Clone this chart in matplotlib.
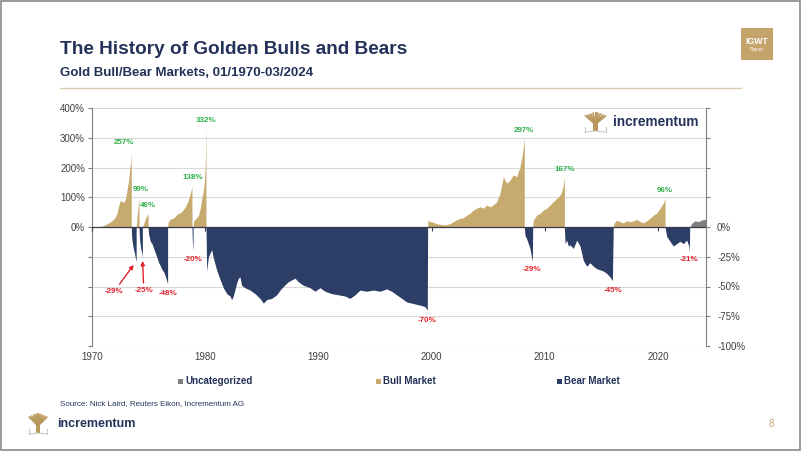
import matplotlib
matplotlib.use("Agg")
import matplotlib.pyplot as plt
from matplotlib.patches import Rectangle
from matplotlib.ticker import FixedFormatter, FixedLocator, NullFormatter

plt.rcParams["font.family"] = ["Liberation Sans", "DejaVu Sans"]

GOLD = "#C7AB6E"
NAVY = "#2C3E66"
GREY = "#7F7F7F"
GREEN = "#2DB04B"
RED = "#E3212B"
TITLE = "#243259"
TEXT = "#404040"
GRID = "#D9D9D9"

# bull markets, % gain from the start of each run (left axis)
BULL_YEARS = [
    1970.55, 1970.7, 1970.9, 1971.2, 1971.5, 1971.8, 1972.0, 1972.2, 1972.35, 1972.5, 1972.65, 1972.8,
    1972.95, 1973.1, 1973.25, 1973.35, 1973.42, 1973.47, 1973.47,
    1973.9, 1973.95, 1974.0, 1974.05, 1974.1, 1974.15, 1974.15,
    1974.45, 1974.55, 1974.65, 1974.75, 1974.85, 1974.95, 1974.95,
    1976.68, 1976.72, 1976.8, 1977.0, 1977.2, 1977.4, 1977.6, 1977.8, 1978.0, 1978.2, 1978.4, 1978.55,
    1978.7, 1978.83, 1978.83,
    1978.93, 1978.98, 1979.1, 1979.25, 1979.4, 1979.55, 1979.7, 1979.8, 1979.9, 1979.97, 1980.02, 1980.07, 1980.07,
    1999.65, 1999.68, 1999.86, 2000.15, 2000.45, 2000.74, 2001.18, 2001.63, 2001.92, 2002.21, 2002.51, 2002.8,
    2003.1, 2003.39, 2003.69, 2003.98, 2004.28, 2004.57, 2004.86, 2005.16, 2005.45, 2005.75, 2006.04, 2006.34,
    2006.48, 2006.63, 2006.93, 2007.22, 2007.52, 2007.81, 2007.96, 2008.1, 2008.19, 2008.19,
    2008.93, 2008.99, 2009.28, 2009.58, 2009.87, 2010.17, 2010.46, 2010.75, 2011.05, 2011.34, 2011.49, 2011.64,
    2011.73, 2011.73,
    2016.05, 2016.11, 2016.35, 2016.64, 2016.94, 2017.23, 2017.53, 2017.82, 2018.12, 2018.41, 2018.71, 2019.0,
    2019.29, 2019.59, 2019.88, 2020.18, 2020.47, 2020.62, 2020.62,
]
BULL_PCT = [
    0, 2, 3, 8, 14, 22, 30, 45, 70, 90, 85, 84,
    92, 125, 160, 200, 215, 257, 0,
    0, 20, 45, 60, 80, 99, 0,
    0, 10, 20, 30, 38, 46, 0,
    0, 15, 22, 28, 30, 38, 45, 48, 55, 65, 80, 95,
    115, 138, 0,
    0, 20, 25, 32, 38, 60, 95, 115, 140, 180, 230, 332, 0,
    0, 23, 18, 16, 11, 9, 7, 11, 18, 24, 29, 31,
    40, 46, 57, 63, 68, 63, 74, 68, 74, 85, 113, 169,
    158, 147, 158, 175, 169, 203, 231, 270, 297, 0,
    0, 23, 40, 46, 57, 63, 74, 85, 96, 107, 119, 141,
    167, 0,
    0, 12, 23, 18, 14, 21, 18, 21, 26, 18, 14, 21,
    29, 40, 46, 63, 80, 96, 0,
]

# bear markets, % drawdown (right axis)
BEAR_YEARS = [
    1973.47, 1973.5, 1973.55, 1973.65, 1973.75, 1973.85, 1973.9, 1973.9,
    1974.15, 1974.2, 1974.3, 1974.4, 1974.45, 1974.45,
    1974.95, 1975.0, 1975.05, 1975.15, 1975.3, 1975.45, 1975.6, 1975.75, 1975.9, 1976.05, 1976.2, 1976.35,
    1976.5, 1976.6, 1976.68, 1976.68,
    1978.83, 1978.86, 1978.9, 1978.93, 1978.93,
    1980.07, 1980.13, 1980.28, 1980.57, 1980.72, 1981.01, 1981.31, 1981.6, 1981.9, 1982.19, 1982.34, 1982.48,
    1982.78, 1982.93, 1983.07, 1983.22, 1983.51, 1983.96, 1984.4, 1984.84, 1985.14, 1985.43, 1985.87, 1986.31,
    1986.61, 1986.9, 1987.34, 1987.93, 1988.23, 1988.67, 1989.26, 1989.7, 1990.14, 1990.58, 1991.17, 1991.76,
    1992.35, 1992.79, 1993.23, 1993.67, 1994.26, 1994.85, 1995.44, 1996.03, 1996.47, 1996.91, 1997.36, 1997.8,
    1998.24, 1998.68, 1999.12, 1999.42, 1999.62, 1999.65,
    2008.19, 2008.25, 2008.4, 2008.55, 2008.69, 2008.84, 2008.9, 2008.93,
    2011.73, 2011.79, 2011.93, 2012.08, 2012.23, 2012.52, 2012.82, 2013.11, 2013.4, 2013.7, 2013.99, 2014.29,
    2014.58, 2014.88, 2015.17, 2015.47, 2015.76, 2015.97, 2016.05,
    2020.62, 2020.77, 2021.06, 2021.35, 2021.65, 2021.94, 2022.24, 2022.53, 2022.72, 2022.77, 2022.8,
]
BEAR_PCT = [
    0, -8, -12, -18, -22, -27, -29, 0,
    0, -10, -18, -22, -25, 0,
    0, -6, -8, -12, -14, -18, -22, -26, -30, -33, -36, -38,
    -42, -45, -48, 0,
    0, -10, -20, -12, 0,
    0, -37, -25, -19, -26, -36, -44, -51, -56, -58, -61, -58,
    -47, -43, -42, -49, -51, -53, -56, -60, -64, -61, -60, -57,
    -53, -50, -46, -43, -46, -49, -51, -54, -51, -54, -56, -57,
    -58, -60, -57, -53, -54, -53, -54, -52, -54, -57, -60, -63,
    -64, -65, -66, -67, -70, 0,
    0, -7, -10, -14, -18, -26, -29, 0,
    0, -14, -11, -16, -15, -18, -11, -16, -28, -33, -30, -33,
    -35, -36, -37, -39, -42, -45, 0,
    0, -8, -12, -16, -14, -12, -14, -11, -16, -21, 0,
]

# not yet classified (left axis)
OTHER_YEARS = [2022.83, 2022.97, 2023.27, 2023.56, 2023.86, 2024.06, 2024.2, 2024.2]
OTHER_PCT = [0, 12, 21, 18, 23, 26, 24, 0]

PEAK_YEARS = [1973.47, 1974.15, 1974.95, 1978.83, 1980.07, 2008.19, 2011.73, 2020.62]
PEAK_PCT = [257, 99, 46, 138, 332, 297, 167, 96]
TROUGH_YEARS = [1973.9, 1974.45, 1976.68, 1978.9, 1999.62, 2008.9, 2015.97, 2022.77]
TROUGH_PCT = [-29, -25, -48, -20, -70, -29, -45, -21]

DECADES = [1970, 1980, 1990, 2000, 2010, 2020]
LEFT_TICKS = list(range(-400, 401, 100))
RIGHT_TICKS = list(range(-100, 101, 25))


def draw_tree(fig, rect):
    lax = fig.add_axes(rect)
    lax.set_xlim(0, 1)
    lax.set_ylim(0, 1)
    lax.axis("off")
    for i in range(9):
        x_end = 0.08 + i * 0.105
        lax.plot([0.5, x_end], [0.42, 0.97 - abs(i - 4) * 0.04], color="#B8975A", lw=1.3, solid_capstyle="butt")
    lax.add_patch(Rectangle((0.4, 0.12), 0.2, 0.34, color="#B8975A", lw=0))
    lax.plot([0.08, 0.45], [0.08, 0.12], color="#C9C9C9", lw=0.8)
    lax.plot([0.55, 0.92], [0.12, 0.08], color="#C9C9C9", lw=0.8)
    lax.plot([0.08, 0.08], [0.08, 0.3], color="#C9C9C9", lw=0.8)
    lax.plot([0.92, 0.92], [0.08, 0.3], color="#C9C9C9", lw=0.8)


fig = plt.figure(figsize=(8.02, 4.51), dpi=100)
fig.patch.set_facecolor("white")

ax = fig.add_axes([92 / 802, 1 - 346 / 451, 614 / 802, 238 / 451])
ax2 = ax.twinx()

ax.fill_between(BULL_YEARS, BULL_PCT, 0, color=GOLD, lw=0)
ax.fill_between(OTHER_YEARS, OTHER_PCT, 0, color=GREY, lw=0)
ax2.fill_between(BEAR_YEARS, BEAR_PCT, 0, color=NAVY, lw=0)
ax2.axhline(0, color="#3A3A4A", lw=0.9, zorder=3)

ax.set_xlim(1970, 2024.24)
ax.set_ylim(-400, 400)
ax2.set_ylim(-100, 100)

ax.set_axisbelow(True)
ax.grid(axis="y", color=GRID, lw=0.8)
ax.yaxis.set_major_locator(FixedLocator(LEFT_TICKS))
ax.yaxis.set_major_formatter(FixedFormatter([f"{t}%" if t >= 0 else "" for t in LEFT_TICKS]))
ax.tick_params(axis="y", length=3, color=GREY, labelsize=7, labelcolor=TEXT, pad=2)
ax.set_xticks(DECADES)
ax.set_xticklabels([str(d) for d in DECADES])
ax.tick_params(axis="x", length=0, labelsize=7, labelcolor=TEXT, pad=4)

ax2.yaxis.set_major_locator(FixedLocator(RIGHT_TICKS))
ax2.yaxis.set_major_formatter(FixedFormatter([f"{t}%" if t <= 0 else "" for t in RIGHT_TICKS]))
ax2.tick_params(axis="y", length=3, color=GREY, labelsize=7, labelcolor=TEXT, pad=5)

for side in ["top", "bottom", "right"]:
    ax.spines[side].set_visible(False)
for side in ["top", "bottom", "left"]:
    ax2.spines[side].set_visible(False)
ax.spines["left"].set_color(GREY)
ax2.spines["right"].set_color(GREY)

# category axis crossing at zero: tick marks only, pointing down
zero_axis = ax2.secondary_xaxis(0.5)
zero_axis.set_xticks(DECADES)
zero_axis.xaxis.set_major_formatter(NullFormatter())
zero_axis.tick_params(length=3, color="#3A3A4A", direction="in")
for side in ["top", "bottom"]:
    zero_axis.spines[side].set_visible(False)

bull_dx = [-7, 2, 0, 1, 0, 0, 0, 0]
for yr, pct, dx in zip(PEAK_YEARS, PEAK_PCT, bull_dx):
    ax.annotate(f"{pct}%", (yr, pct), xytext=(dx, 8), textcoords="offset pixels",
                ha="center", va="center", fontsize=5.8, fontweight="bold", color=GREEN)

bear_offsets = [(-22, -30), (1.5, -34), (0, -9), (0, -9), (0, -10), (0, -8), (1, -10), (0, -8)]
for i, (yr, pct) in enumerate(zip(TROUGH_YEARS, TROUGH_PCT)):
    arrow = None
    if i < 2:
        arrow = dict(arrowstyle="-|>", color=RED, lw=1.0, shrinkA=1, shrinkB=3, mutation_scale=6)
    ax2.annotate(f"{pct}%", (yr, pct), xytext=bear_offsets[i], textcoords="offset pixels",
                 ha="center", va="center", fontsize=5.8, fontweight="bold", color=RED,
                 arrowprops=arrow, zorder=5)

# header
fig.text(60 / 802, 1 - 50 / 451, "The History of Golden Bulls and Bears", fontsize=13.7,
         fontweight="bold", color=TITLE, va="center")
fig.text(60 / 802, 1 - 73 / 451, "Gold Bull/Bear Markets, 01/1970-03/2024", fontsize=9.5,
         fontweight="bold", color=TITLE, va="center")
fig.add_artist(plt.Line2D([60 / 802, 741 / 802], [1 - 88 / 451] * 2, color="#D9CCAA", lw=1))
fig.add_artist(Rectangle((741 / 802, 1 - 60 / 451), 32 / 802, 32 / 451, color="#C4A46A", lw=0))
fig.text(757 / 802, 1 - 41 / 451, "IGWT", fontsize=6.2, fontweight="bold", color="white", ha="center", va="center")
fig.text(757 / 802, 1 - 50 / 451, "Report", fontsize=3.3, color="white", ha="center", va="center")

# logo inside the chart
draw_tree(fig, [583 / 802, 1 - 134 / 451, 25 / 802, 23 / 451])
fig.text(613 / 802, 1 - 122 / 451, "incrementum", fontsize=9.8, fontweight="bold", color=TITLE, va="center")

# legend
legend_items = [(181, GREY, "Uncategorized"), (379, GOLD, "Bull Market"), (560, NAVY, "Bear Market")]
for x_px, colour, label in legend_items:
    fig.add_artist(Rectangle(((x_px - 3) / 802, 1 - 384 / 451), 5 / 802, 5 / 451, color=colour, lw=0))
    fig.text((x_px + 4) / 802, 1 - 381.5 / 451, label, fontsize=7, fontweight="bold", color=TITLE, va="center")

# footer
fig.text(60 / 802, 1 - 404 / 451, "Source: Nick Laird, Reuters Eikon, Incrementum AG", fontsize=5.8,
         color=TITLE, va="center")
draw_tree(fig, [27 / 802, 1 - 436 / 451, 22 / 802, 24 / 451])
fig.text(57 / 802, 1 - 424 / 451, "incrementum", fontsize=9, fontweight="bold", color=TITLE, va="center")
fig.text(771 / 802, 1 - 424 / 451, "8", fontsize=7, color="#C4A46A", ha="center", va="center")

fig.add_artist(Rectangle((0.001, 0.002), 0.997, 0.996, fill=False, edgecolor="#8A8A8A", lw=1.2))

fig.savefig("out.png", dpi=100, facecolor="white")
